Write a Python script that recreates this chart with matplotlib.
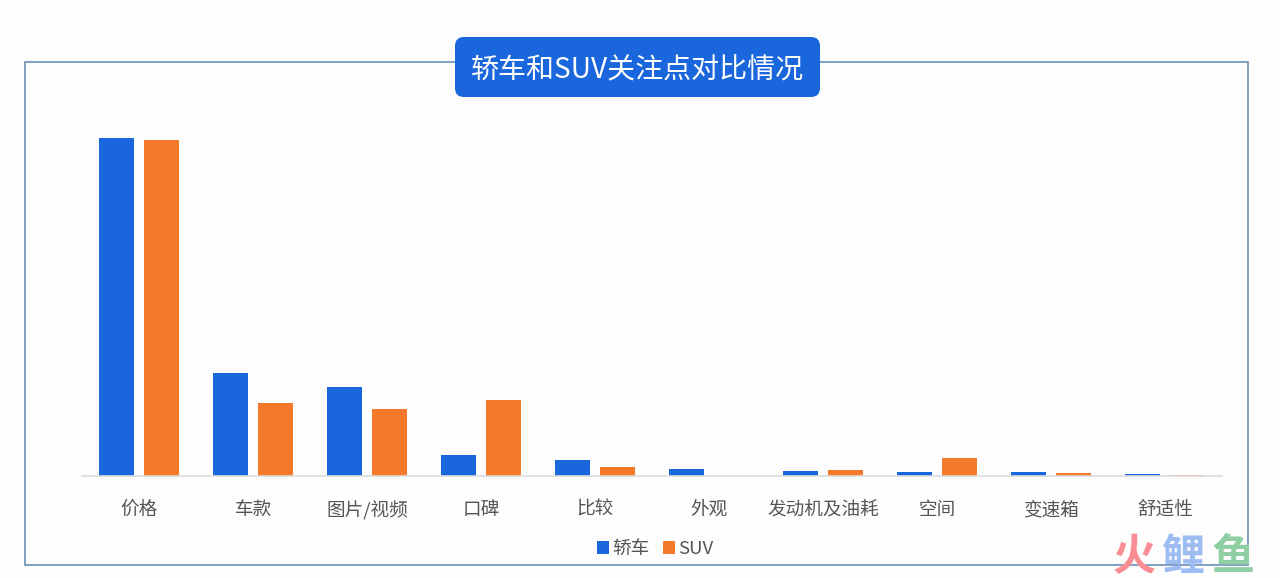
#!/usr/bin/env python3
"""Grouped bars: what sedan and SUV buyers pay attention to."""
import matplotlib
matplotlib.use("Agg")
import matplotlib.pyplot as plt
import numpy as np
from matplotlib.patches import FancyBboxPatch, Rectangle

plt.rcParams['font.family'] = ['Noto Sans CJK SC', 'DejaVu Sans']

W, H = 1280, 578

TITLE = "轿车和SUV关注点对比情况"
SERIES_NAMES = ["轿车", "SUV"]
CATEGORIES = ["价格", "车款", "图片/视频", "口碑", "比较", "外观",
              "发动机及油耗", "空间", "变速箱", "舒适性"]
# no value axis in the source, heights are read off the picture
SEDAN = [338, 103, 89, 21, 16, 7.5, 5, 4, 4.5, 2.5]
SUV = [336.5, 73, 67, 76, 9, 0.5, 6.5, 18, 3, 1]

BLUE = "#1a66dc"
ORANGE = "#f5792b"
FRAME = "#6a90b8"


def main():
    fig = plt.figure(figsize=(W / 100, H / 100), dpi=100, facecolor="#fdfdfe")

    # Overlay in pixel coordinates for the frame and the title badge
    deco = fig.add_axes([0, 0, 1, 1], zorder=0)
    deco.set_xlim(0, W)
    deco.set_ylim(H, 0)
    deco.axis("off")
    deco.add_patch(Rectangle((25, 61.5), 1223, 503.5, fill=False,
                             edgecolor=FRAME, linewidth=1.2))
    deco.add_patch(FancyBboxPatch((462, 44), 351, 46,
                                  boxstyle="round,pad=7,rounding_size=9",
                                  facecolor=BLUE, edgecolor="none", zorder=3))
    deco.text(637, 70, TITLE, color="white", fontsize=20.2,
              ha="center", va="center", zorder=4)
    # site watermark, bottom right
    for x, ch, col in zip([1134, 1183, 1233], "火鲤鱼",
                          ["#f98d93", "#9dbcf2", "#8fcfa3"]):
        deco.text(x, 557, ch, color=col, fontsize=31, fontweight="bold",
                  ha="center", va="center", zorder=4)

    # Chart axes: 1 data unit = 1 px vertically
    left, right, top, base = 82, 1222, 100, 476
    ax = fig.add_axes([left / W, 1 - base / H, (right - left) / W, (base - top) / H],
                      zorder=1)
    ax.patch.set_alpha(0)
    x = np.arange(len(CATEGORIES))
    width = 0.305
    off = 0.195
    b1 = ax.bar(x - off, SEDAN, width, color=BLUE, label=SERIES_NAMES[0])
    b2 = ax.bar(x + off, SUV, width, color=ORANGE, label=SERIES_NAMES[1])

    ax.set_xlim(-0.5, len(CATEGORIES) - 0.5)
    ax.set_ylim(0, base - top)
    ax.set_yticks([])
    ax.set_xticks(x)
    ax.set_xticklabels(CATEGORIES, fontsize=13.4, color="#555555")
    ax.tick_params(axis="x", length=0, pad=18)
    for side in ("top", "left", "right"):
        ax.spines[side].set_visible(False)
    ax.spines["bottom"].set_color("#dcdcdc")
    ax.spines["bottom"].set_linewidth(1.2)

    leg = fig.legend(handles=[b1, b2], loc="center", ncol=2, frameon=False,
                     bbox_to_anchor=(655 / W, 1 - 549 / H), fontsize=13.4,
                     handlelength=0.65, handleheight=0.65, handletextpad=0.15,
                     columnspacing=0.75, labelcolor="#555555")
    leg.set_zorder(5)

    fig.savefig("out.png", dpi=100, facecolor=fig.get_facecolor())
    plt.close(fig)


if __name__ == "__main__":
    main()
